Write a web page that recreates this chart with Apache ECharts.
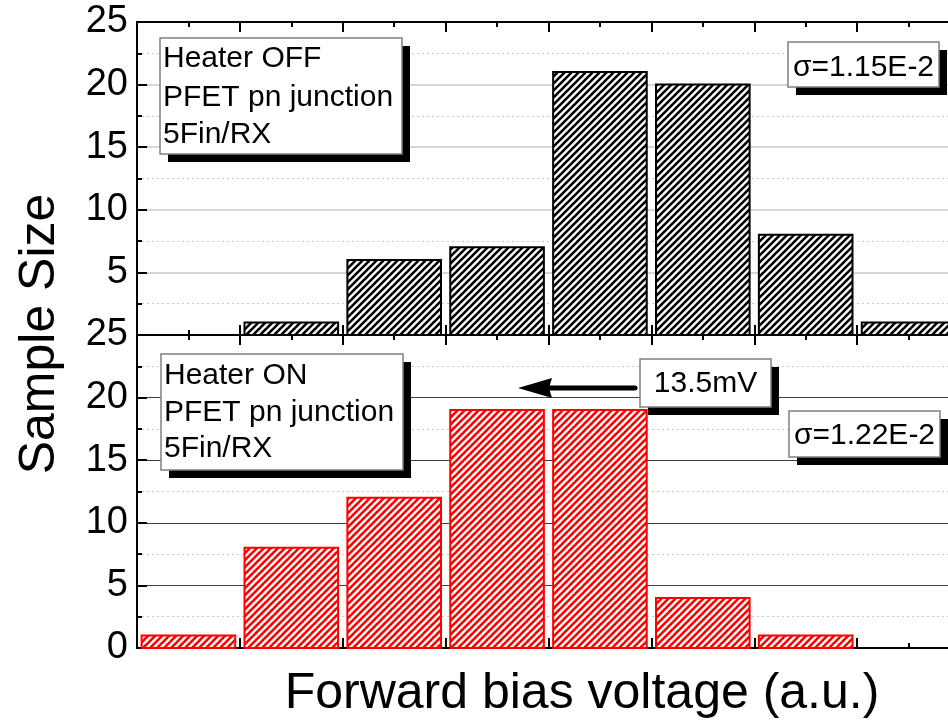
<!DOCTYPE html>
<html>
<head>
<meta charset="utf-8">
<script src="https://cdn.jsdelivr.net/npm/echarts@6/dist/echarts.min.js"></script>
<style>html,body{margin:0;padding:0;background:#fff}#c{width:948px;height:723px}</style>
</head>
<body>
<div id="c"></div>
<script>
// ---- data ----
const bins = [0, 1, 2, 3, 4, 5, 6, 7];            // histogram bin index (a.u.)
const heaterOff = [0, 1, 6, 7, 21, 20, 8, 1];     // sample counts, Heater OFF
const heaterOn  = [1, 8, 12, 19, 19, 4, 1, 0];    // sample counts, Heater ON
const yTicks = [0, 5, 10, 15, 20, 25];
const xTitle = 'Forward bias voltage (a.u.)';
const yTitle = 'Sample Size';

const FONT = '"Liberation Sans", Arial, sans-serif';

function hatch(color) {
  const s = 7;
  const c = document.createElement('canvas');
  c.width = s; c.height = s;
  const ctx = c.getContext('2d');
  ctx.fillStyle = '#fff';
  ctx.fillRect(0, 0, s, s);
  ctx.strokeStyle = color;
  ctx.lineWidth = 2.6;
  for (const k of [-s, 0, s]) {
    ctx.beginPath();
    ctx.moveTo(k - 1, s + 1);
    ctx.lineTo(k + s + 1, -1);
    ctx.stroke();
  }
  return { image: c, repeat: 'repeat' };
}
const blackHatch = hatch('#000');
const redHatch = hatch('#ff0000');

const chart = echarts.init(document.getElementById('c'), null, { renderer: 'canvas' });

const gap = 0.045;
function barRenderer(fill, stroke) {
  return function (params, api) {
    const i = api.value(0), v = api.value(1);
    if (!v) return null;
    const p0 = api.coord([i + gap, v]);
    const p1 = api.coord([i + 1 - gap, 0]);
    return {
      type: 'rect',
      shape: { x: p0[0], y: p0[1], width: p1[0] - p0[0], height: p1[1] - p0[1] },
      style: { fill: fill, stroke: stroke, lineWidth: 2 }
    };
  };
}

function xAx(gridIndex, position) {
  return {
    type: 'value', gridIndex, position, min: 0, max: bins.length, interval: 1,
    axisLine: { show: true, onZero: false, lineStyle: { color: '#000', width: 2 } },
    axisTick: { show: true, inside: true, length: 10, lineStyle: { color: '#000', width: 2 } },
    minorTick: { show: true, splitNumber: 2, length: 5, lineStyle: { color: '#000', width: 2 } },
    axisLabel: { show: false },
    splitLine: { show: false }
  };
}
function yAx(gridIndex, majorColor, majorWidth, hideZero) {
  return {
    type: 'value', gridIndex, min: yTicks[0], max: yTicks[yTicks.length - 1], interval: 5,
    axisLine: { show: true, lineStyle: { color: '#000', width: 2 } },
    axisTick: { show: true, inside: true, length: 10, lineStyle: { color: '#000', width: 2 } },
    minorTick: { show: true, splitNumber: 2, length: 5, lineStyle: { color: '#000', width: 2 } },
    axisLabel: {
      fontFamily: FONT, fontSize: 38, color: '#000', margin: 9,
      formatter: v => (hideZero && v === 0) ? '' : String(v)
    },
    splitLine: { show: true, lineStyle: { color: majorColor, width: majorWidth } },
    minorSplitLine: { show: true, lineStyle: { color: '#c8c8c8', width: 1, type: [2, 3] } }
  };
}

function box(x, y, w, h, lines, baselines, align) {
  const els = [
    { type: 'rect', shape: { x: x + 8, y: y + 8, width: w, height: h }, style: { fill: '#000' }, z: 100 },
    { type: 'rect', shape: { x: x, y: y, width: w, height: h }, style: { fill: '#fff', stroke: '#808080', lineWidth: 1.5 }, z: 101 }
  ];
  lines.forEach((t, k) => {
    els.push({
      type: 'text', z: 102,
      style: {
        text: t, x: align === 'center' ? x + w / 2 : x + 3, y: baselines[k] - 9,
        font: '30px ' + FONT, fill: '#000',
        align: align === 'center' ? 'center' : 'left', verticalAlign: 'middle'
      }
    });
  });
  return els;
}

const graphics = [].concat(
  box(160, 38, 242, 116, ['Heater OFF', 'PFET pn junction', '5Fin/RX'], [68, 107, 144], 'left'),
  box(788, 42, 151, 45, ['σ=1.15E-2'], [77], 'center'),
  box(161, 354, 242, 116, ['Heater ON', 'PFET pn junction', '5Fin/RX'], [385, 422, 458], 'left'),
  box(640, 359, 131, 48, ['13.5mV'], [393], 'center'),
  box(789, 411, 151, 46, ['σ=1.22E-2'], [445], 'center'),
  [
    { type: 'line', z: 100, shape: { x1: 635, y1: 388, x2: 540, y2: 388 },
      style: { stroke: '#000', lineWidth: 5, lineCap: 'round' } },
    { type: 'polygon', z: 100, shape: { points: [[518, 388], [552, 378], [549, 388], [552, 398]] },
      style: { fill: '#000' } },
    { type: 'text', z: 100,
      style: { text: xTitle, x: 582, y: 694, font: '50px ' + FONT, fill: '#000', align: 'center', verticalAlign: 'middle' } },
    { type: 'text', z: 100, rotation: Math.PI / 2, x: 40, y: 334,
      style: { text: yTitle, x: 0, y: 0, font: '50px ' + FONT, fill: '#000', align: 'center', verticalAlign: 'middle' } }
  ]
);

chart.setOption({
  animation: false,
  backgroundColor: '#fff',
  grid: [
    { left: 137, top: 22, width: 823, height: 313, outerBoundsMode: 'none', containLabel: false },
    { left: 137, top: 335, width: 823, height: 313, outerBoundsMode: 'none', containLabel: false }
  ],
  xAxis: [xAx(0, 'bottom'), xAx(0, 'top'), xAx(1, 'bottom'), xAx(1, 'top')],
  yAxis: [yAx(0, '#c8c8c8', 1.5, true), yAx(1, '#404040', 1, false)],
  series: [
    {
      type: 'custom', xAxisIndex: 0, yAxisIndex: 0, z: 5,
      data: bins.map((b, k) => [b, heaterOff[k]]),
      renderItem: barRenderer(blackHatch, '#000'),
      encode: { x: 0, y: 1 }
    },
    {
      type: 'custom', xAxisIndex: 2, yAxisIndex: 1, z: 5,
      data: bins.map((b, k) => [b, heaterOn[k]]),
      renderItem: barRenderer(redHatch, '#ff0000'),
      encode: { x: 0, y: 1 }
    }
  ],
  graphic: graphics
});
</script>
</body>
</html>
